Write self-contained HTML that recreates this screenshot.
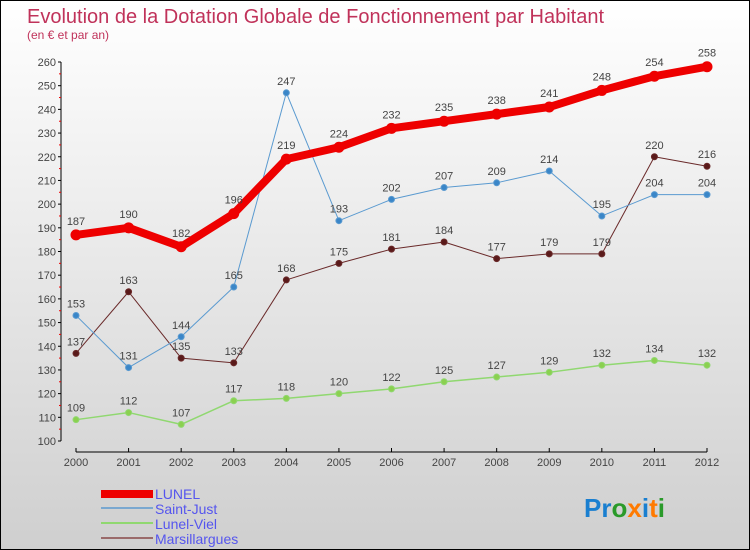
<!DOCTYPE html>
<html><head><meta charset="utf-8"><style>
body{margin:0}
#c{width:750px;height:550px;position:relative;box-sizing:border-box;border:1px solid #000;background:linear-gradient(#ffffff,#cfcfcf);font-family:"Liberation Sans",sans-serif;overflow:hidden}
</style></head><body>
<div id="c">
<svg id="s" width="748" height="548" style="position:absolute;left:0;top:0">
<text x="26" y="22" font-size="20" fill="#c0325a">Evolution de la Dotation Globale de Fonctionnement par Habitant</text>
<text x="26" y="38" font-size="12" fill="#c0325a">(en € et par an)</text>
<g id="axes"></g><g id="series"></g>
<g>
<rect x="100" y="489" width="52" height="8" fill="#e00"/>
<text x="154" y="498" font-size="14" fill="#5555ee">LUNEL</text>
<line x1="100" y1="507" x2="152" y2="507" stroke="#7aa8d0" stroke-width="2"/>
<text x="154" y="513" font-size="14" fill="#5555ee">Saint-Just</text>
<line x1="100" y1="522" x2="152" y2="522" stroke="#90d870" stroke-width="2"/>
<text x="154" y="528" font-size="14" fill="#5555ee">Lunel-Viel</text>
<line x1="100" y1="537" x2="152" y2="537" stroke="#9a6a6a" stroke-width="2"/>
<text x="154" y="543" font-size="14" fill="#5555ee">Marsillargues</text>
</g>
<text x="583" y="516" font-size="26" font-weight="bold"><tspan fill="#1a7fd0">Pr</tspan><tspan fill="#2a9a2a">o</tspan><tspan fill="#ff7a00">x</tspan><tspan fill="#1a7fd0">i</tspan><tspan fill="#ff7a00">t</tspan><tspan fill="#2a9a2a">i</tspan></text>
</svg>
</div>
<script>
const years=[2000,2001,2002,2003,2004,2005,2006,2007,2008,2009,2010,2011,2012];
const lunel=[187,190,182,196,219,224,232,235,238,241,248,254,258];
const saintJust=[153,131,144,165,247,193,202,207,209,214,195,204,204];
const lunelViel=[109,112,107,117,118,120,122,125,127,129,132,134,132];
const marsillargues=[137,163,135,133,168,175,181,184,177,179,179,220,216];
const yTicks=[100,110,120,130,140,150,160,170,180,190,200,210,220,230,240,250,260];
const NS="http://www.w3.org/2000/svg";
const x=i=>75+i*(706-75)/(years.length-1);
const y=v=>440-(v-100)*(440-61)/160;
function mk(t,a,p){const e=document.createElementNS(NS,t);for(const k in a)e.setAttribute(k,a[k]);p.appendChild(e);return e;}
const ax=document.getElementById('axes'),sg=document.getElementById('series');
let l=mk('line',{x1:60,y1:y(100),x2:60,y2:y(260),stroke:'#000'},ax);


yTicks.forEach(v=>{
 mk('line',{x1:57,y1:y(v),x2:60,y2:y(v),stroke:'#000'},ax);
 if(v<260)mk('line',{x1:58,y1:y(v+5),x2:60,y2:y(v+5),stroke:'#e00'},ax);
 const t=mk('text',{x:55,y:y(v)+4,'font-size':11,'text-anchor':'end',fill:'#444'},ax);t.textContent=v;
 
 
});
l=mk('line',{x1:75,y1:451,x2:706,y2:451,stroke:'#000'},ax);


years.forEach((yr,i)=>{
 mk('line',{x1:x(i),y1:447,x2:x(i),y2:451,stroke:'#000'},ax);
 const t=mk('text',{x:x(i),y:465,'font-size':11,'text-anchor':'middle',fill:'#444'},ax);t.textContent=yr;
 
 
});
function series(d,name,col,w,r,fill){
 const g=mk('g',{},sg);
 
 
 mk('polyline',{points:d.map((v,i)=>x(i)+','+y(v)).join(' '),fill:'none',stroke:col,'stroke-width':w,'stroke-linejoin':'round'},g);
 d.forEach((v,i)=>{
  const c=mk('circle',{cx:x(i),cy:y(v),r:r,fill:fill,stroke:col,'stroke-width':1},g);
  
  
  const t=mk('text',{x:x(i),y:y(v)-(r+5),'font-size':11,'text-anchor':'middle',fill:'#444'},g);t.textContent=v;
  
  
 });
}
series(lunelViel,'lunel-viel','#90d870',1.5,3,'#8bd050');
series(marsillargues,'marsillargues','#6a2a2a',1,3,'#5a1a1a');
series(saintJust,'saint-just','#5a9ad0',1,3,'#3a86c8');
series(lunel,'lunel','#e00',8,5,'#e00');
</script>
</body></html>
